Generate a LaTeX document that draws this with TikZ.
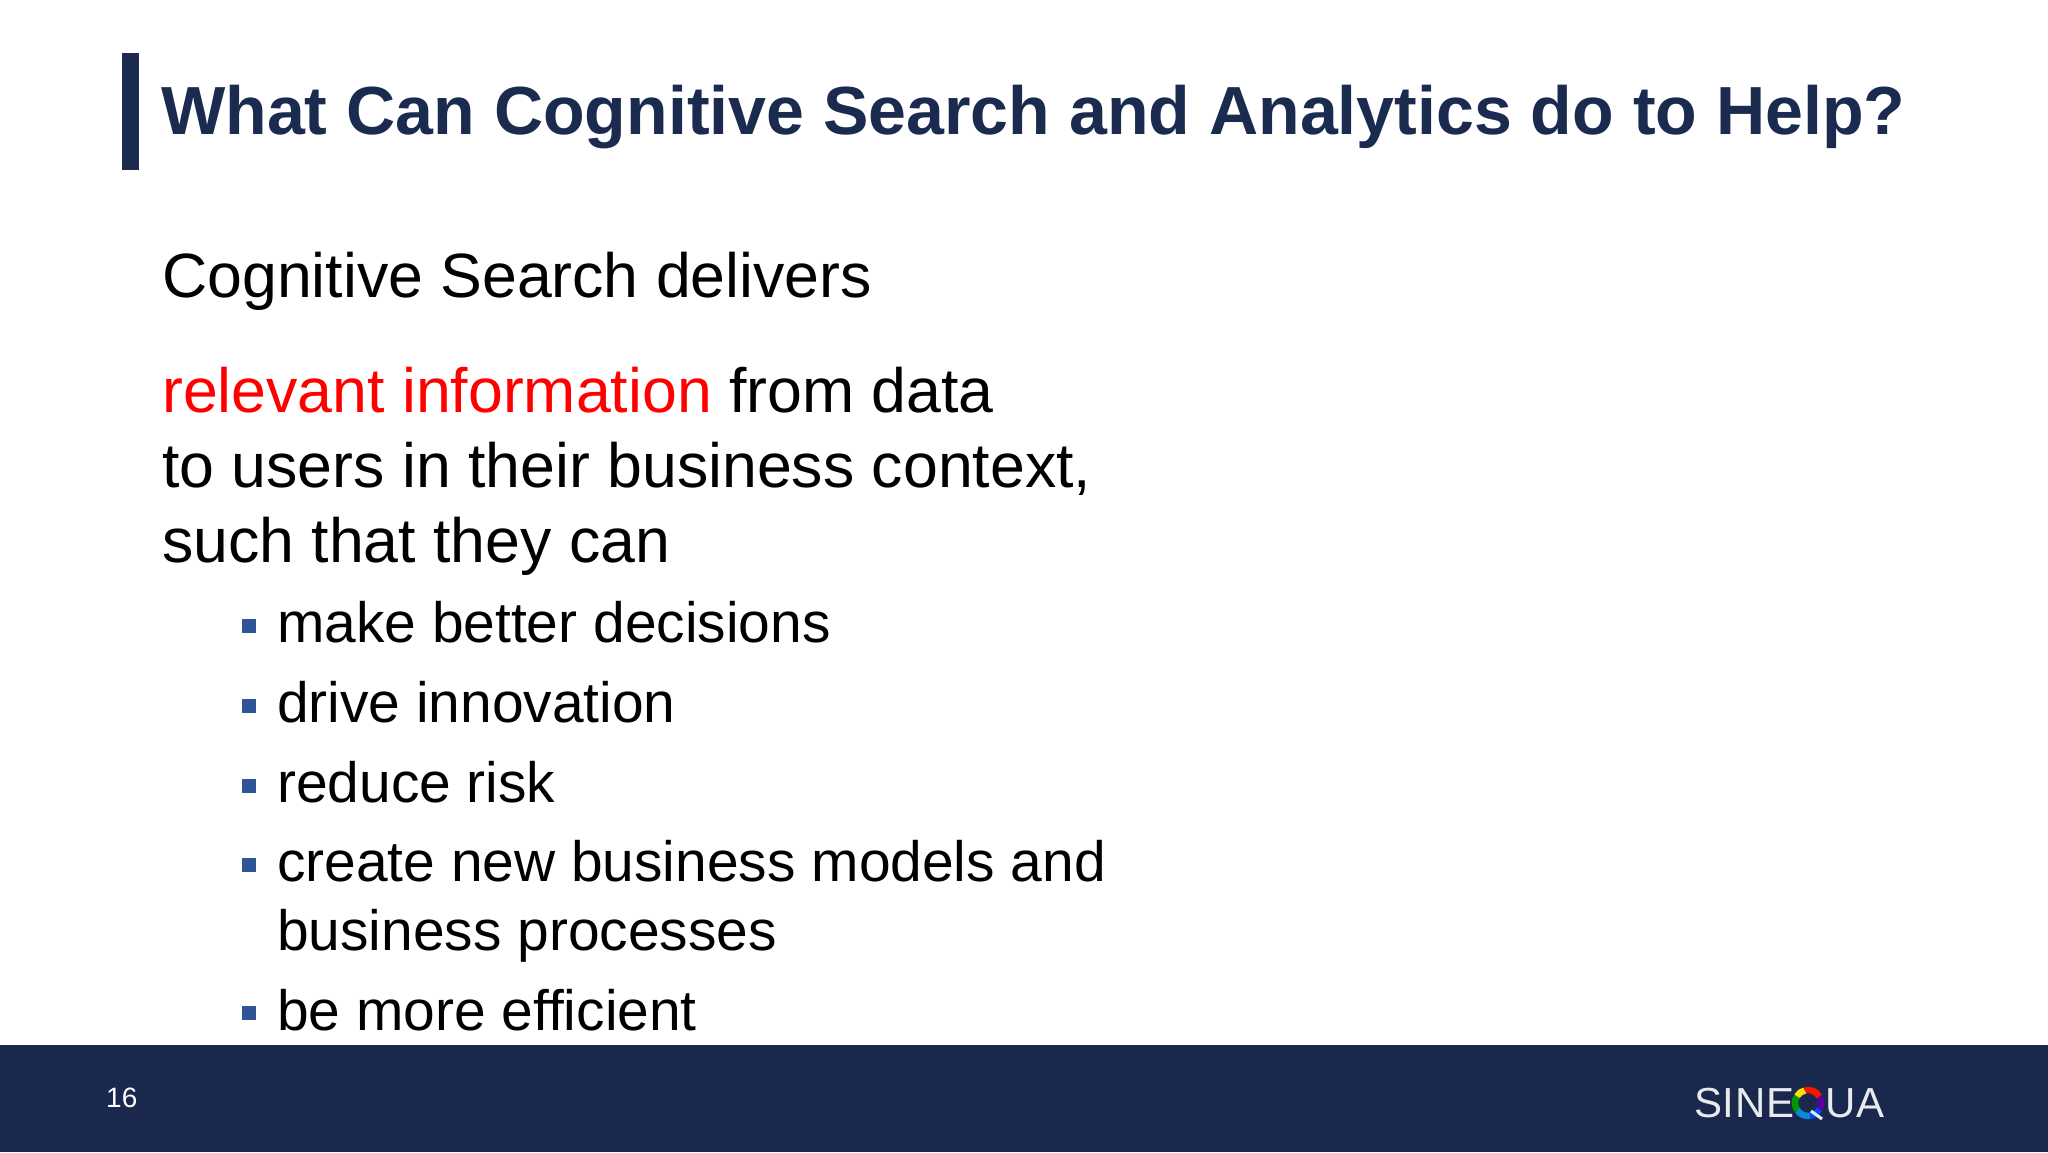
\documentclass[tikz,border=0pt]{standalone}
\usepackage{fontspec}
\setmainfont{Liberation Sans}
\definecolor{navy}{HTML}{1A2B4F}
\definecolor{band}{HTML}{19284C}
\definecolor{bullet}{HTML}{2F5597}
\definecolor{hired}{HTML}{FF0000}
\tikzset{
	title/.style={anchor=base west,inner sep=0pt,text=navy,font=\fontsize{68.1}{68.1}\selectfont\bfseries},
	body/.style={anchor=base west,inner sep=0pt,text=black,font=\fontsize{62.6}{62.6}\selectfont},
	sub/.style={anchor=base west,inner sep=0pt,text=black,font=\fontsize{56.9}{56.9}\selectfont},
	square/.style={fill=bullet,inner sep=0pt,minimum size=14pt},
	logo/.style={anchor=base west,inner sep=0pt,text=white!90!band,font=\fontsize{42}{42}\selectfont\addfontfeature{LetterSpace=1.5}}
}

\begin{document}
\begin{tikzpicture}[x=1pt,y=1pt]
	\useasboundingbox (0,0) rectangle (2048,1152);
	\fill[white] (0,0) rectangle (2048,1152);
	% title bar
	\fill[navy] (122,982) rectangle (139,1099);
	\node[title] (head) at (161,1017) {What Can Cognitive Search and Analytics do to Help?};
	% text
	\node[body] (intro) at (162,854) {Cognitive Search delivers};
	\node[body] (rel) at (162,739) {\textcolor{hired}{relevant information} from data};
	\node[body] (users) at (162,664) {to users in their business context,};
	\node[body] (such) at (162,589) {such that they can};
	% bullets
	\foreach \name/\ypos/\txt in {dec/509/make better decisions,
			inn/429/drive innovation,
			risk/349/reduce risk,
			model/270/create new business models and,
			eff/122/be more efficient} {
		\node[sub] (\name) at (277,\ypos) {\txt};
		\node[square] (sq\name) at (249,\ypos+17) {};
	}
	\node[sub] (proc) at (277,202) {business processes};
	% footer
	\fill[band] (0,0) rectangle (2048,107);
	\node[anchor=base west,inner sep=0pt,text=white,font=\fontsize{28}{28}\selectfont] (page) at (106,45) {16};
	\node[logo] (sine) at (1694,35) {SINE};
	\node[logo,anchor=base east] (ua) at (1885,35) {UA};
	\coordinate (ring) at (1808,49);
	\foreach \from/\to/\col in {-30/30/violet!70!blue,30/105/red!85!orange,105/150/yellow!80!orange,150/215/green!60!black,215/280/cyan!70!blue,280/330/blue!70!cyan} {
		\draw[\col,line width=6.5pt] ([shift={(\from:13)}]ring) arc[start angle=\from,end angle=\to,radius=13];
	}
	\draw[white!90!band,line width=3pt] (1811,41) -- (1822,33);
\end{tikzpicture}
\end{document}
